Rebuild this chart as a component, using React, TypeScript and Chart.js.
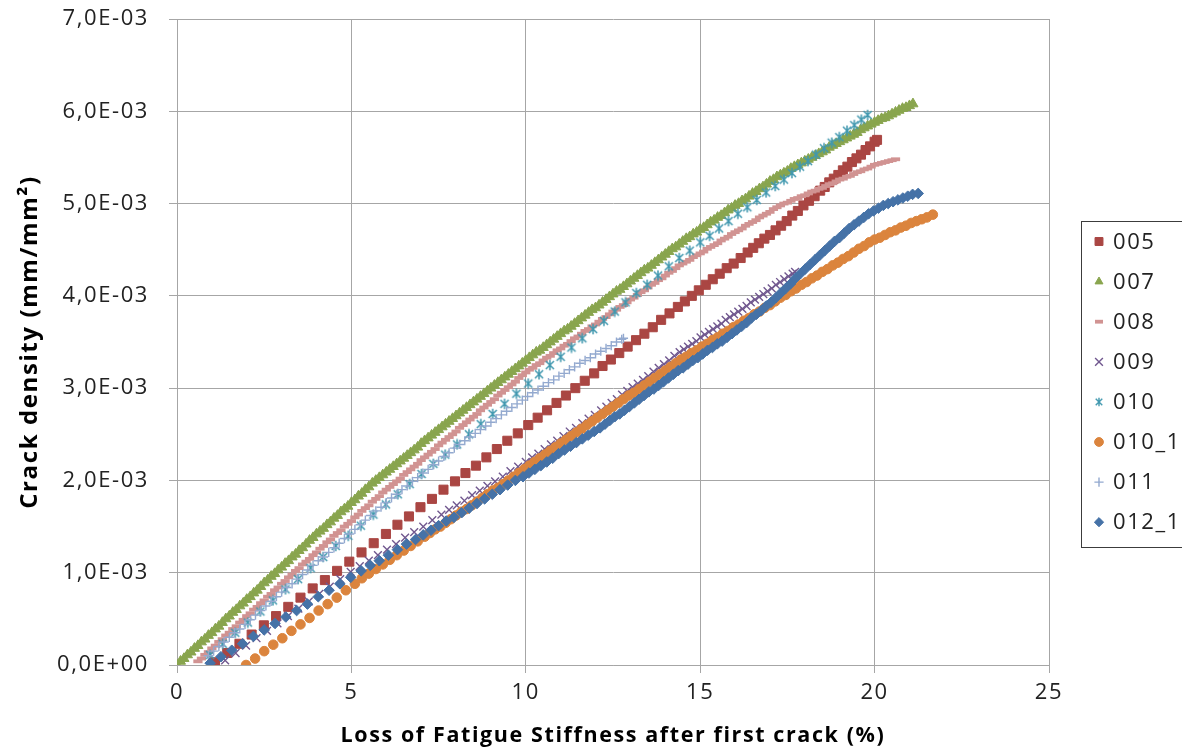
import React, { useEffect, useRef } from 'react';
import { Chart, registerables } from 'chart.js';
import { drawPoint } from 'chart.js/helpers';

Chart.register(...registerables);

// Crack density is listed in units of 1e-3 mm/mm²; x is loss of stiffness in %.
type Pt = [number, number];
const Y_UNIT = 1e-3;

const s005: Pt[] = [[1.09,0.03],[1.44,0.13],[1.79,0.23],[2.14,0.33],[2.49,0.43],[2.84,0.53],[3.19,0.63],[3.54,0.73],[3.89,0.83],[4.24,0.92],[4.59,1.02],[4.94,1.12],[5.29,1.22],[5.64,1.32],[5.99,1.42],[6.32,1.52],[6.65,1.61],[6.98,1.71],[7.31,1.80],[7.64,1.90],[7.97,1.99],[8.27,2.08],[8.57,2.16],[8.87,2.25],[9.17,2.34],[9.47,2.43],[9.77,2.51],[10.07,2.60],[10.34,2.68],[10.61,2.76],[10.88,2.84],[11.15,2.92],[11.42,3.00],[11.69,3.08],[11.96,3.16],[12.2,3.24],[12.44,3.31],[12.68,3.38],[12.92,3.45],[13.16,3.52],[13.4,3.59],[13.64,3.66],[13.88,3.74],[14.12,3.81],[14.36,3.88],[14.56,3.94],[14.76,4.00],[14.96,4.06],[15.16,4.12],[15.36,4.18],[15.56,4.24],[15.76,4.30],[15.96,4.35],[16.16,4.41],[16.36,4.47],[16.52,4.52],[16.68,4.57],[16.84,4.62],[17.0,4.66],[17.16,4.71],[17.32,4.76],[17.48,4.81],[17.64,4.87],[17.8,4.92],[17.96,4.98],[18.12,5.03],[18.28,5.08],[18.44,5.14],[18.57,5.18],[18.7,5.23],[18.83,5.27],[18.96,5.31],[19.09,5.36],[19.22,5.40],[19.35,5.45],[19.48,5.49],[19.61,5.53],[19.74,5.58],[19.87,5.62],[20.0,5.67],[20.07,5.69]];

const s007: Pt[] = [[0,0],[0.1,0.04],[0.2,0.07],[0.3,0.11],[0.4,0.14],[0.5,0.18],[0.6,0.21],[0.7,0.25],[0.8,0.28],[0.9,0.32],[1.0,0.35],[1.1,0.39],[1.2,0.42],[1.3,0.46],[1.4,0.50],[1.5,0.53],[1.6,0.57],[1.7,0.60],[1.8,0.64],[1.9,0.67],[2.0,0.71],[2.1,0.74],[2.2,0.78],[2.3,0.81],[2.4,0.85],[2.5,0.89],[2.6,0.92],[2.7,0.96],[2.8,0.99],[2.9,1.03],[3.0,1.06],[3.1,1.10],[3.2,1.13],[3.3,1.17],[3.4,1.20],[3.5,1.24],[3.6,1.27],[3.7,1.31],[3.8,1.35],[3.9,1.38],[4.0,1.42],[4.1,1.45],[4.2,1.48],[4.3,1.52],[4.4,1.55],[4.5,1.59],[4.6,1.62],[4.7,1.66],[4.8,1.69],[4.9,1.72],[5.0,1.76],[5.1,1.79],[5.2,1.83],[5.3,1.86],[5.4,1.90],[5.5,1.93],[5.6,1.97],[5.7,2.00],[5.8,2.03],[5.9,2.06],[6.0,2.09],[6.1,2.12],[6.2,2.15],[6.3,2.18],[6.4,2.21],[6.5,2.24],[6.6,2.27],[6.7,2.30],[6.8,2.33],[6.9,2.36],[7.0,2.40],[7.1,2.43],[7.2,2.46],[7.3,2.49],[7.4,2.52],[7.5,2.55],[7.6,2.58],[7.7,2.61],[7.8,2.64],[7.9,2.67],[8.0,2.70],[8.1,2.73],[8.2,2.76],[8.3,2.79],[8.4,2.82],[8.5,2.85],[8.6,2.88],[8.7,2.91],[8.8,2.94],[8.9,2.97],[9.0,3.00],[9.1,3.03],[9.2,3.06],[9.3,3.09],[9.4,3.12],[9.5,3.15],[9.6,3.18],[9.7,3.21],[9.8,3.24],[9.9,3.27],[10.0,3.30],[10.1,3.33],[10.2,3.36],[10.3,3.39],[10.4,3.41],[10.5,3.44],[10.6,3.47],[10.7,3.50],[10.8,3.53],[10.9,3.56],[11.0,3.59],[11.1,3.62],[11.2,3.64],[11.3,3.67],[11.4,3.70],[11.5,3.73],[11.6,3.76],[11.7,3.79],[11.8,3.82],[11.9,3.85],[12.0,3.87],[12.1,3.90],[12.2,3.93],[12.3,3.96],[12.4,3.99],[12.5,4.02],[12.6,4.05],[12.7,4.07],[12.8,4.10],[12.9,4.13],[13.0,4.16],[13.1,4.19],[13.2,4.22],[13.3,4.25],[13.4,4.28],[13.5,4.30],[13.6,4.33],[13.7,4.36],[13.8,4.39],[13.9,4.42],[14.0,4.45],[14.1,4.48],[14.2,4.51],[14.3,4.53],[14.4,4.56],[14.5,4.59],[14.6,4.62],[14.7,4.64],[14.8,4.67],[14.9,4.69],[15.0,4.72],[15.1,4.74],[15.2,4.77],[15.3,4.80],[15.4,4.82],[15.5,4.85],[15.6,4.87],[15.7,4.90],[15.8,4.93],[15.9,4.95],[16.0,4.98],[16.1,5.00],[16.2,5.03],[16.3,5.05],[16.4,5.08],[16.5,5.11],[16.6,5.13],[16.7,5.16],[16.8,5.18],[16.9,5.21],[17.0,5.24],[17.1,5.26],[17.2,5.29],[17.3,5.31],[17.4,5.33],[17.5,5.35],[17.6,5.38],[17.7,5.40],[17.8,5.42],[17.9,5.44],[18.0,5.46],[18.1,5.48],[18.2,5.50],[18.3,5.52],[18.4,5.54],[18.5,5.56],[18.6,5.58],[18.7,5.61],[18.8,5.63],[18.9,5.65],[19.0,5.67],[19.1,5.69],[19.2,5.71],[19.3,5.73],[19.4,5.75],[19.5,5.77],[19.6,5.80],[19.7,5.82],[19.8,5.84],[19.9,5.86],[20.0,5.88],[20.1,5.90],[20.2,5.92],[20.3,5.93],[20.4,5.95],[20.5,5.97],[20.6,5.99],[20.7,6.01],[20.8,6.03],[20.9,6.04],[21.0,6.06],[21.1,6.08]];

const s008: Pt[] = [[0.6,0.04],[0.7,0.07],[0.8,0.11],[0.9,0.14],[1.0,0.18],[1.1,0.21],[1.2,0.25],[1.3,0.28],[1.4,0.32],[1.5,0.35],[1.6,0.39],[1.7,0.42],[1.8,0.46],[1.9,0.49],[2.0,0.53],[2.1,0.56],[2.2,0.60],[2.3,0.63],[2.4,0.67],[2.5,0.70],[2.6,0.74],[2.7,0.77],[2.8,0.81],[2.9,0.84],[3.0,0.88],[3.1,0.91],[3.2,0.95],[3.3,0.98],[3.4,1.02],[3.5,1.05],[3.6,1.09],[3.7,1.12],[3.8,1.15],[3.9,1.19],[4.0,1.22],[4.1,1.26],[4.2,1.29],[4.3,1.33],[4.4,1.36],[4.5,1.40],[4.6,1.43],[4.7,1.46],[4.8,1.50],[4.9,1.53],[5.0,1.56],[5.1,1.60],[5.2,1.63],[5.3,1.67],[5.4,1.70],[5.5,1.73],[5.6,1.77],[5.7,1.80],[5.8,1.83],[5.9,1.87],[6.0,1.90],[6.1,1.93],[6.2,1.96],[6.3,1.99],[6.4,2.02],[6.5,2.06],[6.6,2.09],[6.7,2.12],[6.8,2.15],[6.9,2.18],[7.0,2.22],[7.1,2.25],[7.2,2.28],[7.3,2.31],[7.4,2.34],[7.5,2.38],[7.6,2.41],[7.7,2.44],[7.8,2.47],[7.9,2.50],[8.0,2.53],[8.1,2.57],[8.2,2.60],[8.3,2.63],[8.4,2.66],[8.5,2.69],[8.6,2.72],[8.7,2.76],[8.8,2.79],[8.9,2.82],[9.0,2.85],[9.1,2.88],[9.2,2.92],[9.3,2.95],[9.4,2.98],[9.5,3.01],[9.6,3.04],[9.7,3.07],[9.8,3.11],[9.9,3.14],[10.0,3.17],[10.1,3.20],[10.2,3.22],[10.3,3.25],[10.4,3.27],[10.5,3.30],[10.6,3.33],[10.7,3.35],[10.8,3.38],[10.9,3.41],[11.0,3.43],[11.1,3.46],[11.2,3.48],[11.3,3.51],[11.4,3.54],[11.5,3.56],[11.6,3.59],[11.7,3.62],[11.8,3.64],[11.9,3.67],[12.0,3.69],[12.1,3.72],[12.2,3.75],[12.3,3.77],[12.4,3.80],[12.5,3.83],[12.6,3.85],[12.7,3.88],[12.8,3.90],[12.9,3.93],[13.0,3.96],[13.1,3.98],[13.2,4.01],[13.3,4.04],[13.4,4.06],[13.5,4.09],[13.6,4.12],[13.7,4.14],[13.8,4.17],[13.9,4.19],[14.0,4.22],[14.1,4.25],[14.2,4.27],[14.3,4.30],[14.4,4.33],[14.5,4.35],[14.6,4.37],[14.7,4.39],[14.8,4.42],[14.9,4.44],[15.0,4.46],[15.1,4.48],[15.2,4.51],[15.3,4.53],[15.4,4.55],[15.5,4.57],[15.6,4.60],[15.7,4.62],[15.8,4.64],[15.9,4.67],[16.0,4.69],[16.1,4.71],[16.2,4.73],[16.3,4.76],[16.4,4.78],[16.5,4.80],[16.6,4.82],[16.7,4.85],[16.8,4.87],[16.9,4.89],[17.0,4.91],[17.1,4.94],[17.2,4.96],[17.3,4.98],[17.4,5.00],[17.5,5.01],[17.6,5.03],[17.7,5.05],[17.8,5.06],[17.9,5.08],[18.0,5.09],[18.1,5.11],[18.2,5.13],[18.3,5.14],[18.4,5.16],[18.5,5.17],[18.6,5.19],[18.7,5.21],[18.8,5.22],[18.9,5.24],[19.0,5.26],[19.1,5.27],[19.2,5.29],[19.3,5.30],[19.4,5.32],[19.5,5.34],[19.6,5.35],[19.7,5.37],[19.8,5.38],[19.9,5.40],[20.0,5.42],[20.1,5.43],[20.2,5.44],[20.3,5.45],[20.4,5.46],[20.5,5.47],[20.6,5.48]];

const s009: Pt[] = [[1.38,0.05],[1.68,0.13],[1.98,0.21],[2.28,0.29],[2.58,0.37],[2.88,0.45],[3.18,0.53],[3.48,0.61],[3.78,0.69],[4.08,0.77],[4.38,0.85],[4.68,0.93],[4.98,1.01],[5.24,1.07],[5.5,1.13],[5.76,1.19],[6.02,1.25],[6.28,1.31],[6.54,1.38],[6.8,1.44],[7.06,1.50],[7.32,1.57],[7.58,1.63],[7.8,1.68],[8.02,1.73],[8.24,1.78],[8.46,1.84],[8.68,1.89],[8.9,1.94],[9.12,1.99],[9.34,2.04],[9.56,2.10],[9.78,2.15],[10.0,2.20],[10.18,2.25],[10.36,2.29],[10.54,2.34],[10.72,2.39],[10.9,2.43],[11.08,2.48],[11.26,2.53],[11.44,2.57],[11.62,2.62],[11.8,2.67],[11.98,2.71],[12.16,2.76],[12.31,2.80],[12.46,2.84],[12.61,2.88],[12.76,2.93],[12.91,2.97],[13.06,3.01],[13.21,3.05],[13.36,3.09],[13.51,3.13],[13.66,3.18],[13.81,3.22],[13.96,3.26],[14.11,3.30],[14.26,3.35],[14.41,3.39],[14.53,3.42],[14.65,3.45],[14.77,3.48],[14.89,3.51],[15.01,3.55],[15.13,3.58],[15.25,3.61],[15.37,3.64],[15.49,3.67],[15.61,3.70],[15.73,3.74],[15.85,3.77],[15.97,3.80],[16.09,3.83],[16.21,3.86],[16.33,3.89],[16.45,3.93],[16.57,3.96],[16.69,3.99],[16.81,4.02],[16.93,4.05],[17.05,4.08],[17.17,4.12],[17.29,4.15],[17.41,4.18],[17.53,4.21],[17.65,4.24],[17.72,4.26]];

const s010: Pt[] = [[0.95,0.11],[1.31,0.23],[1.67,0.35],[2.03,0.46],[2.39,0.58],[2.75,0.70],[3.11,0.82],[3.47,0.93],[3.83,1.05],[4.19,1.17],[4.55,1.29],[4.91,1.40],[5.27,1.51],[5.63,1.63],[5.99,1.74],[6.33,1.85],[6.67,1.96],[7.01,2.07],[7.35,2.18],[7.69,2.28],[8.03,2.39],[8.37,2.50],[8.71,2.61],[9.05,2.72],[9.39,2.83],[9.73,2.94],[10.07,3.05],[10.38,3.15],[10.69,3.25],[11.0,3.34],[11.31,3.44],[11.62,3.54],[11.93,3.64],[12.24,3.73],[12.55,3.83],[12.86,3.93],[13.17,4.03],[13.48,4.12],[13.79,4.22],[14.1,4.32],[14.4,4.41],[14.7,4.49],[15.0,4.58],[15.27,4.65],[15.54,4.73],[15.81,4.81],[16.08,4.89],[16.35,4.96],[16.62,5.04],[16.89,5.12],[17.15,5.19],[17.4,5.26],[17.63,5.33],[17.86,5.40],[18.09,5.46],[18.32,5.53],[18.55,5.60],[18.77,5.66],[18.99,5.72],[19.21,5.79],[19.42,5.85],[19.62,5.91],[19.8,5.96]];

const s010_1: Pt[] = [[1.98,0.00],[2.24,0.07],[2.5,0.15],[2.76,0.22],[3.02,0.29],[3.28,0.37],[3.54,0.44],[3.8,0.51],[4.06,0.59],[4.32,0.66],[4.58,0.73],[4.84,0.81],[5.1,0.88],[5.3,0.94],[5.5,0.99],[5.7,1.04],[5.9,1.09],[6.1,1.14],[6.3,1.19],[6.5,1.24],[6.7,1.29],[6.9,1.34],[7.1,1.39],[7.25,1.43],[7.4,1.47],[7.55,1.50],[7.7,1.54],[7.85,1.58],[8.0,1.62],[8.15,1.66],[8.3,1.69],[8.45,1.73],[8.6,1.77],[8.75,1.81],[8.9,1.85],[9.05,1.89],[9.2,1.92],[9.35,1.96],[9.5,2.00],[9.65,2.04],[9.8,2.08],[9.95,2.12],[10.1,2.16],[10.25,2.20],[10.4,2.24],[10.55,2.28],[10.7,2.32],[10.85,2.36],[11.0,2.40],[11.15,2.44],[11.3,2.48],[11.45,2.52],[11.6,2.56],[11.75,2.60],[11.9,2.64],[12.05,2.68],[12.2,2.72],[12.35,2.76],[12.5,2.80],[12.65,2.84],[12.8,2.88],[12.95,2.92],[13.1,2.95],[13.25,2.99],[13.4,3.03],[13.55,3.07],[13.7,3.11],[13.85,3.15],[14.0,3.19],[14.15,3.23],[14.3,3.27],[14.45,3.31],[14.6,3.34],[14.75,3.38],[14.9,3.41],[15.05,3.45],[15.2,3.48],[15.35,3.52],[15.5,3.55],[15.65,3.59],[15.8,3.62],[15.95,3.66],[16.1,3.69],[16.25,3.73],[16.4,3.76],[16.55,3.80],[16.7,3.83],[16.85,3.87],[17.0,3.90],[17.15,3.94],[17.3,3.98],[17.45,4.01],[17.6,4.05],[17.75,4.08],[17.9,4.12],[18.05,4.15],[18.2,4.19],[18.35,4.22],[18.5,4.26],[18.65,4.29],[18.8,4.33],[18.95,4.36],[19.1,4.40],[19.25,4.43],[19.4,4.47],[19.55,4.51],[19.7,4.54],[19.85,4.58],[20.0,4.61],[20.15,4.63],[20.3,4.66],[20.45,4.69],[20.6,4.71],[20.75,4.74],[20.9,4.76],[21.05,4.79],[21.2,4.81],[21.35,4.83],[21.5,4.85],[21.67,4.88]];

const s011: Pt[] = [[0.9,0.10],[1.05,0.15],[1.2,0.20],[1.35,0.25],[1.5,0.30],[1.65,0.35],[1.8,0.39],[1.95,0.44],[2.1,0.49],[2.25,0.54],[2.4,0.59],[2.55,0.64],[2.7,0.69],[2.85,0.74],[3.0,0.79],[3.15,0.84],[3.3,0.88],[3.45,0.93],[3.6,0.98],[3.75,1.03],[3.9,1.08],[4.05,1.13],[4.2,1.17],[4.35,1.22],[4.5,1.27],[4.65,1.32],[4.8,1.37],[4.95,1.42],[5.1,1.47],[5.25,1.52],[5.4,1.57],[5.55,1.62],[5.7,1.67],[5.85,1.71],[6.0,1.76],[6.15,1.81],[6.3,1.85],[6.45,1.90],[6.6,1.94],[6.75,1.99],[6.9,2.03],[7.05,2.08],[7.2,2.12],[7.35,2.17],[7.5,2.21],[7.65,2.26],[7.8,2.30],[7.95,2.35],[8.1,2.39],[8.25,2.43],[8.4,2.47],[8.55,2.51],[8.7,2.55],[8.85,2.59],[9.0,2.63],[9.15,2.67],[9.3,2.71],[9.45,2.75],[9.6,2.79],[9.75,2.83],[9.9,2.87],[10.05,2.91],[10.2,2.95],[10.35,2.98],[10.5,3.02],[10.65,3.06],[10.8,3.09],[10.95,3.13],[11.1,3.16],[11.25,3.20],[11.4,3.23],[11.55,3.27],[11.7,3.30],[11.85,3.33],[12.0,3.37],[12.15,3.40],[12.3,3.43],[12.45,3.46],[12.6,3.50],[12.75,3.53],[12.8,3.54]];

const s012_1: Pt[] = [[0.95,0.02],[1.26,0.09],[1.57,0.16],[1.88,0.23],[2.19,0.31],[2.5,0.38],[2.81,0.45],[3.12,0.52],[3.43,0.59],[3.74,0.66],[4.05,0.74],[4.36,0.81],[4.67,0.88],[4.98,0.95],[5.28,1.02],[5.54,1.08],[5.8,1.13],[6.06,1.19],[6.32,1.25],[6.58,1.31],[6.84,1.36],[7.06,1.41],[7.28,1.46],[7.5,1.51],[7.72,1.56],[7.94,1.60],[8.16,1.65],[8.38,1.70],[8.6,1.75],[8.82,1.80],[9.04,1.85],[9.26,1.90],[9.48,1.95],[9.7,2.00],[9.92,2.04],[10.09,2.08],[10.26,2.12],[10.43,2.16],[10.6,2.20],[10.77,2.24],[10.94,2.29],[11.11,2.33],[11.28,2.37],[11.45,2.41],[11.62,2.45],[11.79,2.49],[11.96,2.53],[12.13,2.57],[12.27,2.61],[12.41,2.65],[12.55,2.69],[12.69,2.72],[12.83,2.76],[12.97,2.80],[13.11,2.84],[13.25,2.88],[13.39,2.92],[13.53,2.96],[13.67,2.99],[13.81,3.03],[13.95,3.07],[14.09,3.11],[14.23,3.15],[14.37,3.19],[14.51,3.22],[14.65,3.26],[14.79,3.30],[14.93,3.33],[15.07,3.37],[15.21,3.41],[15.35,3.44],[15.49,3.48],[15.63,3.51],[15.77,3.55],[15.91,3.59],[16.05,3.63],[16.19,3.67],[16.33,3.71],[16.47,3.76],[16.61,3.80],[16.75,3.84],[16.89,3.89],[17.03,3.93],[17.17,3.98],[17.31,4.03],[17.45,4.08],[17.59,4.13],[17.73,4.19],[17.87,4.24],[18.01,4.29],[18.15,4.34],[18.29,4.39],[18.43,4.44],[18.57,4.49],[18.71,4.54],[18.85,4.59],[18.99,4.63],[19.13,4.68],[19.27,4.73],[19.41,4.77],[19.55,4.81],[19.69,4.85],[19.83,4.89],[19.97,4.92],[20.11,4.95],[20.25,4.98],[20.39,5.00],[20.53,5.02],[20.67,5.04],[20.81,5.06],[20.95,5.08],[21.09,5.10],[21.25,5.11]];

const seriesNames = ['005', '007', '008', '009', '010', '010_1', '011', '012_1'];
const seriesData: Pt[][] = [s005, s007, s008, s009, s010, s010_1, s011, s012_1];
const xTicks = [0, 5, 10, 15, 20, 25];
const yTickLabels = ['0,0E+00', '1,0E-03', '2,0E-03', '3,0E-03', '4,0E-03', '5,0E-03', '6,0E-03', '7,0E-03'];

const FONT = "'Open Sans', 'Noto Sans', sans-serif";
const GRID = '#a6a6a6';
const TEXT = '#222222';

type Marker = { color: string; style: any; radius: number; width: number; legendRadius: number };

function makeAsterisk(color: string, size: number, lw: number): HTMLCanvasElement {
  const c = document.createElement('canvas');
  c.width = size;
  c.height = size;
  const g = c.getContext('2d')!;
  g.strokeStyle = color;
  g.lineWidth = lw;
  const m = size / 2;
  const r = size / 2 - 0.8;
  const d = r * 0.78;
  g.beginPath();
  g.moveTo(m, m - r);
  g.lineTo(m, m + r);
  g.moveTo(m - d, m - d);
  g.lineTo(m + d, m + d);
  g.moveTo(m - d, m + d);
  g.lineTo(m + d, m - d);
  g.stroke();
  return c;
}

// Slightly tracked text, as in the original office chart
const spacingPlugin = {
  id: 'textSpacing',
  beforeUpdate(chart: any) {
    chart.ctx.letterSpacing = '1.6px';
  },
  beforeDraw(chart: any) {
    chart.ctx.letterSpacing = '1.6px';
  },
};

function makeLegendPlugin(markers: Marker[]) {
  return {
    id: 'sideLegend',
    afterDraw(chart: any) {
      const ctx = chart.ctx as CanvasRenderingContext2D;
      ctx.save();
      ctx.strokeStyle = '#3c3c3c';
      ctx.lineWidth = 1;
      ctx.strokeRect(1081.5, 221.5, 140, 326);
      ctx.font = `22px ${FONT}`;
      ctx.textBaseline = 'middle';
      ctx.textAlign = 'left';
      seriesNames.forEach((name, i) => {
        const y = 241.5 + i * 40.1;
        const mk = markers[i];
        ctx.fillStyle = mk.color;
        ctx.strokeStyle = mk.color;
        ctx.lineWidth = mk.width;
        drawPoint(ctx, { pointStyle: mk.style, rotation: 0, radius: mk.legendRadius, borderWidth: mk.width } as any, 1099, y);
        ctx.fillStyle = TEXT;
        ctx.fillText(name, 1113, y + 1);
      });
      ctx.restore();
    },
  };
}

export default function App() {
  const ref = useRef<HTMLCanvasElement | null>(null);

  useEffect(() => {
    if (!ref.current) return;
    const asterisk = makeAsterisk('#4198AF', 12, 1.5);
    const asteriskSmall = makeAsterisk('#4198AF', 10, 1.4);

    const markers: Marker[] = [
      { color: '#AA4643', style: 'rect', radius: 6.4, width: 1, legendRadius: 5.6 },
      { color: '#89A54E', style: 'triangle', radius: 5.8, width: 1, legendRadius: 4.6 },
      { color: '#D19392', style: 'line', radius: 4.6, width: 3.8, legendRadius: 4 },
      { color: '#71588F', style: 'crossRot', radius: 5.5, width: 1.4, legendRadius: 5.5 },
      { color: '#4198AF', style: asterisk, radius: 5, width: 1, legendRadius: 5 },
      { color: '#DB843D', style: 'circle', radius: 4.8, width: 1, legendRadius: 4.4 },
      { color: '#93A9CF', style: 'cross', radius: 4.6, width: 1.4, legendRadius: 4.6 },
      { color: '#4572A7', style: 'rectRot', radius: 5.3, width: 1, legendRadius: 4.6 },
    ];
    const legendMarkers = markers.map((m, i) => (i === 4 ? { ...m, style: asteriskSmall } : m));

    const datasets = seriesData.map((pts, i) => ({
      label: seriesNames[i],
      data: pts.map(([x, y]) => ({ x, y: y * Y_UNIT })),
      showLine: false,
      pointStyle: markers[i].style,
      pointRadius: markers[i].radius,
      pointHoverRadius: markers[i].radius,
      pointBorderWidth: markers[i].width,
      pointBackgroundColor: markers[i].color,
      pointBorderColor: markers[i].color,
      order: seriesNames.length - i,
    }));

    const chart = new Chart(ref.current, {
      type: 'scatter',
      data: { datasets },
      options: {
        animation: false,
        responsive: false,
        events: [],
        layout: { padding: { top: 19, right: 133, bottom: 0, left: 0 } },
        plugins: { legend: { display: false }, tooltip: { enabled: false } },
        scales: {
          x: {
            type: 'linear',
            min: xTicks[0],
            max: xTicks[xTicks.length - 1],
            afterBuildTicks: (s: any) => {
              s.ticks = xTicks.map((v) => ({ value: v }));
            },
            afterFit: (s: any) => {
              s.height = 84;
              s.paddingLeft = 0;
              s.paddingRight = 0;
            },
            ticks: {
              font: { family: FONT, size: 22 },
              color: TEXT,
              padding: 7,
              maxRotation: 0,
              callback: (v: any) => String(v),
            },
            grid: { color: GRID, lineWidth: 1, tickLength: 8, tickColor: GRID },
            border: { color: GRID, width: 1 },
            title: {
              display: true,
              text: 'Loss of Fatigue Stiffness after first crack (%)',
              font: { family: FONT, size: 21.5, weight: 'bold' },
              color: '#000',
              padding: { top: 3, bottom: 0 },
            },
          },
          y: {
            type: 'linear',
            min: 0,
            max: 7 * Y_UNIT,
            afterBuildTicks: (s: any) => {
              s.ticks = yTickLabels.map((_, i) => ({ value: i * Y_UNIT }));
            },
            afterFit: (s: any) => {
              s.width = 177;
              s.paddingTop = 0;
              s.paddingBottom = 0;
            },
            ticks: {
              font: { family: FONT, size: 22 },
              color: TEXT,
              padding: 20,
              callback: (_v: any, i: number) => yTickLabels[i],
            },
            grid: { color: GRID, lineWidth: 1, tickLength: 8, tickColor: GRID },
            border: { color: GRID, width: 1 },
            title: {
              display: true,
              text: 'Crack density (mm/mm²)',
              font: { family: FONT, size: 24, weight: 'bold' },
              color: '#000',
              padding: { top: 16, bottom: 0 },
            },
          },
        },
      },
      plugins: [spacingPlugin, makeLegendPlugin(legendMarkers)],
    } as any);

    return () => chart.destroy();
  }, []);

  return (
    <div style={{ position: 'fixed', left: 0, top: 0, width: 1182, height: 749, background: '#fff' }}>
      <canvas ref={ref} width={1182} height={749} style={{ display: 'block' }} />
    </div>
  );
}
